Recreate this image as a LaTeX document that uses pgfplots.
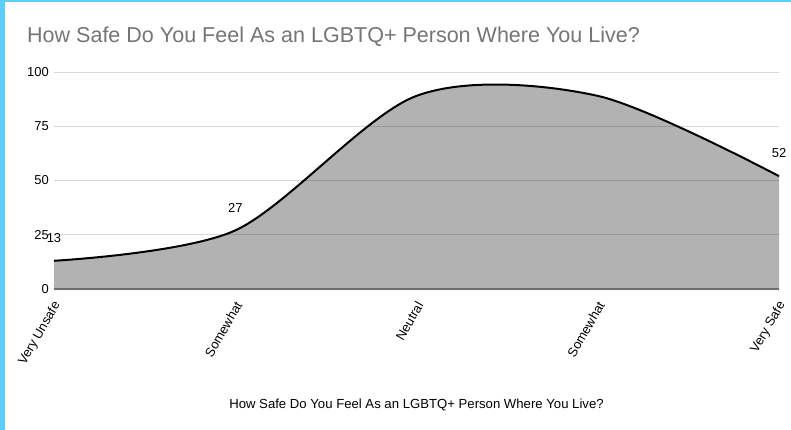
\documentclass[border=0pt]{standalone}
\usepackage{pgfplots}
\pgfplotsset{compat=1.18}
\usepackage{fontspec}
\setmainfont{Liberation Sans}
\definecolor{cyanb}{RGB}{91,206,250}
\definecolor{titlegray}{RGB}{117,117,117}
\definecolor{gridgray}{RGB}{217,217,217}
\definecolor{basegray}{RGB}{110,110,110}
\begin{document}
\begin{tikzpicture}
\fill[white] (0bp,0bp) rectangle (791bp,430bp);
\path[use as bounding box] (0bp,0bp) rectangle (791bp,430bp);
\fill[cyanb] (0bp,0bp) rectangle (5bp,430bp);
\fill[cyanb] (0bp,428bp) rectangle (791bp,430bp);
\node[anchor=base west, text=titlegray, inner sep=0pt, font=\fontsize{21.6}{25}\selectfont] at (27bp,387bp) {How Safe Do You Feel As an LGBTQ+ Person Where You Live?};
\node[anchor=base, inner sep=0pt, font=\fontsize{13.2}{15}\selectfont] at (416.5bp,22bp) {How Safe Do You Feel As an LGBTQ+ Person Where You Live?};
\begin{axis}[
  at={(54bp,141bp)}, anchor=south west,
  scale only axis, width=725bp, height=217bp,
  xmin=0, xmax=4, ymin=0, ymax=100,
  xtick={0,1,2,3,4},
  xticklabels={Very Unsafe,Somewhat,Neutral,Somewhat,Very Safe},
  ytick={0,25,50,75,100},
  /pgf/number format/assume math mode=true,
  ymajorgrids, grid style={gridgray, line width=0.8bp},
  axis line style={draw=none}, tick style={draw=none},
  tick label style={font=\fontsize{13}{15}\selectfont},
  xticklabel style={yshift=-13bp, xshift=4bp, rotate=60, anchor=east, inner sep=1pt},
  yticklabel style={anchor=east, inner sep=0pt, xshift=-5bp},
  clip=false,
]
\addplot[draw=none, fill=black, fill opacity=0.3, smooth, tension=0.5] coordinates {(0,13) (1,27) (2,89) (3,89) (4,52)} \closedcycle;
\draw[basegray, line width=1.2bp] (axis cs:0,0) -- (axis cs:4,0);
\addplot[black, line width=2bp, smooth, tension=0.5] coordinates {(0,13) (1,27) (2,89) (3,89) (4,52)};
\addplot[draw=none, nodes near coords, nodes near coords style={font=\fontsize{13}{15}\selectfont, anchor=south, yshift=18bp, inner sep=0pt}] coordinates {(0,13) (1,27) (4,52)};
\end{axis}
\end{tikzpicture}
\end{document}
